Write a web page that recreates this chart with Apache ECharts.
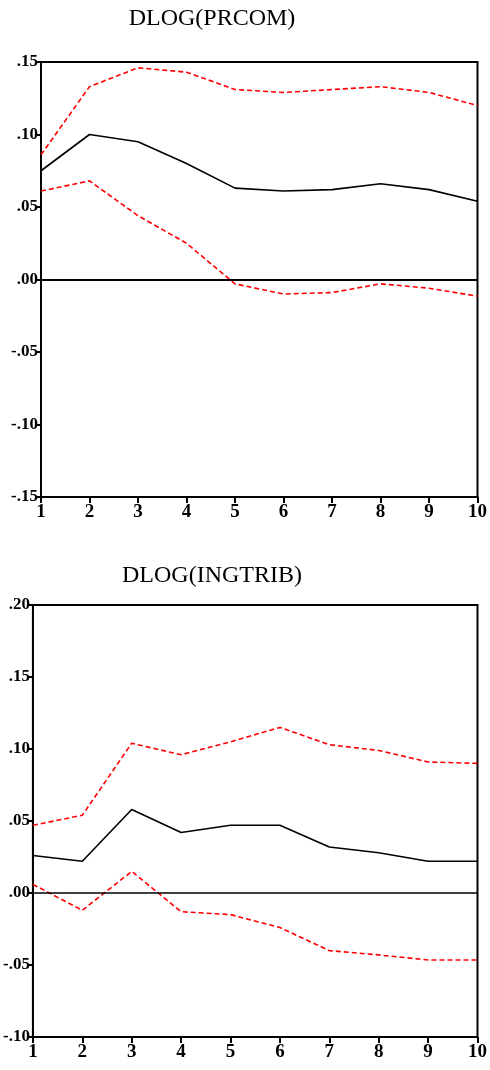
<!DOCTYPE html>
<html>
<head>
<meta charset="utf-8">
<script src="https://cdn.jsdelivr.net/npm/echarts@6/dist/echarts.min.js"></script>
<style>
html,body{margin:0;padding:0;background:#fff;}
#chart{width:490px;height:1070px;}
</style>
</head>
<body>
<div id="chart"></div>
<script>
// Horizon labels (x axis, both panels)
var horizons = ['1','2','3','4','5','6','7','8','9','10'];

// Panel 1: DLOG(PRCOM)
var title1 = 'DLOG(PRCOM)';
var prcomResp  = [0.075, 0.100, 0.095, 0.080, 0.063, 0.061, 0.062, 0.066, 0.062, 0.054];
var prcomUpper = [0.086, 0.133, 0.146, 0.143, 0.131, 0.129, 0.131, 0.133, 0.129, 0.120];
var prcomLower = [0.061, 0.068, 0.044, 0.025, -0.003, -0.010, -0.009, -0.003, -0.006, -0.0115];

// Panel 2: DLOG(INGTRIB)
var title2 = 'DLOG(INGTRIB)';
var ingResp  = [0.026, 0.022, 0.058, 0.042, 0.047, 0.047, 0.032, 0.028, 0.022, 0.022];
var ingUpper = [0.047, 0.054, 0.104, 0.096, 0.105, 0.115, 0.103, 0.099, 0.091, 0.090];
var ingLower = [0.006, -0.012, 0.015, -0.013, -0.015, -0.024, -0.040, -0.043, -0.0465, -0.0465];

function fmt(v){
  var s = (Math.round(v*100)/100).toFixed(2);
  return s.replace('0.', '.');
}

var labelFont = "'Liberation Serif', 'Times New Roman', serif";

function xAxisCfg(gi){
  return {
    type:'category', gridIndex:gi, data:horizons, boundaryGap:false,
    axisLine:{show:true, onZero:false, lineStyle:{color:'#000', width:2}},
    axisTick:{show:true, inside:false, length:6, lineStyle:{color:'#000', width:2}},
    axisLabel:{color:'#000', fontFamily:labelFont, fontWeight:'bold', fontSize:19, margin:6},
    splitLine:{show:false}
  };
}
function yAxisCfg(gi, min, max){
  return {
    type:'value', gridIndex:gi, min:min, max:max, interval:0.05,
    axisLine:{show:true, onZero:false, lineStyle:{color:'#000', width:2}},
    axisTick:{show:true, inside:false, length:4, lineStyle:{color:'#000', width:2}},
    axisLabel:{color:'#000', fontFamily:labelFont, fontWeight:'bold', fontSize:17, margin:3, formatter:fmt},
    splitLine:{show:false}
  };
}
function resp(data, xi, yi, zeroW){
  return {
    type:'line', xAxisIndex:xi, yAxisIndex:yi, data:data, symbol:'none',
    lineStyle:{color:'#000', width:1.6}, z:3,
    markLine:{silent:true, symbol:'none', label:{show:false},
      lineStyle:{color:'#000', type:'solid', width:zeroW},
      data:[{yAxis:0}]}
  };
}
function band(data, xi, yi){
  return {
    type:'line', xAxisIndex:xi, yAxisIndex:yi, data:data, symbol:'none',
    lineStyle:{color:'#ff0000', width:1.6, type:[5,3]}, z:2
  };
}

var chart = echarts.init(document.getElementById('chart'), null, {renderer:'canvas'});
chart.setOption({
  animation:false,
  backgroundColor:'#fff',
  graphic:[
    {type:'text', x:212, y:19, style:{text:title1, align:'center', verticalAlign:'middle', font:"24px 'Liberation Serif', serif", fill:'#000'}},
    {type:'text', x:212, y:576, style:{text:title2, align:'center', verticalAlign:'middle', font:"24px 'Liberation Serif', serif", fill:'#000'}}
  ],
  grid:[
    {left:41, right:6, top:62, height:435, show:true, borderColor:'#000', borderWidth:2, backgroundColor:'transparent'},
    {left:30, right:9, top:605, height:432, show:true, borderColor:'#000', borderWidth:2, backgroundColor:'transparent'}
  ],
  xAxis:[xAxisCfg(0), xAxisCfg(1)],
  yAxis:[yAxisCfg(0, -0.15, 0.15), yAxisCfg(1, -0.10, 0.20)],
  series:[
    resp(prcomResp, 0, 0, 2.2),
    band(prcomUpper, 0, 0),
    band(prcomLower, 0, 0),
    resp(ingResp, 1, 1, 1.6),
    band(ingUpper, 1, 1),
    band(ingLower, 1, 1)
  ]
});
</script>
</body>
</html>
